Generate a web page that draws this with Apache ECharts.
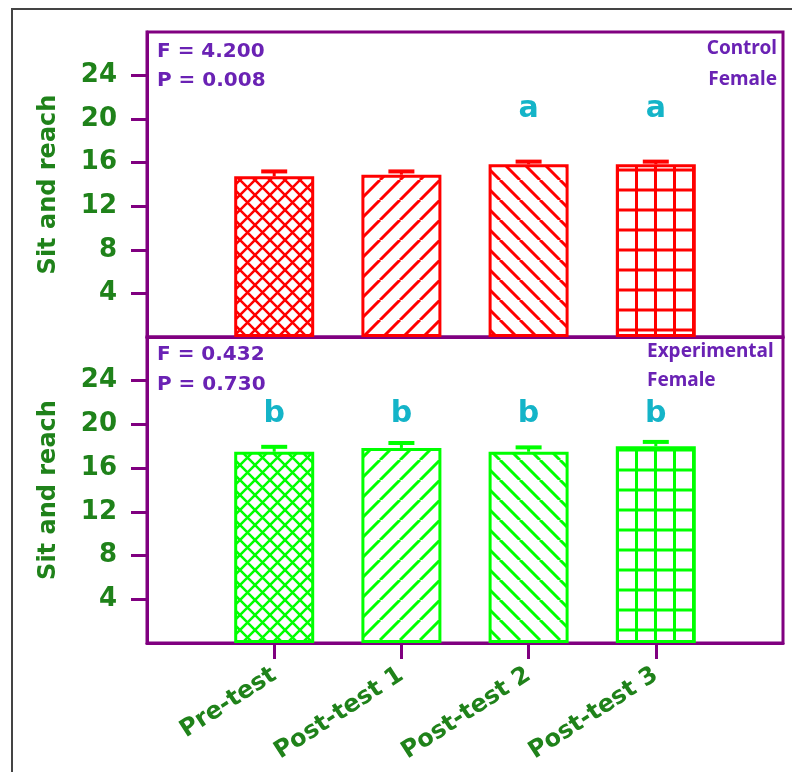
<!DOCTYPE html>
<html><head><meta charset="utf-8">
<script src="https://cdn.jsdelivr.net/npm/echarts@6/dist/echarts.min.js"></script>
<style>html,body{margin:0;padding:0;background:#fff}#c{width:792px;height:772px}</style>
</head><body><div id="c"></div>
<script>
// ---- data ----
const categories = ['Pre-test', 'Post-test 1', 'Post-test 2', 'Post-test 3'];
const controlMeans = [14.75, 14.9, 15.85, 15.85];
const controlSE = [0.45, 0.3, 0.25, 0.25];
const experimentalMeans = [17.5, 17.85, 17.5, 18.0];
const experimentalSE = [0.45, 0.45, 0.4, 0.4];
const controlLetters = ['', '', 'a', 'a'];
const experimentalLetters = ['b', 'b', 'b', 'b'];
const yTicks = [4, 8, 12, 16, 20, 24];
const controlStats = ['F = 4.200', 'P = 0.008'];
const experimentalStats = ['F = 0.432', 'P = 0.730'];
const controlGroup = ['Control', 'Female'];
const experimentalGroup = ['Experimental', 'Female'];
const yName = 'Sit and reach';

// ---- styles ----
const PURPLE = '#800080';
const TEXT_PURPLE = '#6a22b4';
const GREEN = '#1f821a';
const CYAN = '#14b4c8';
const RED = '#ff0000';
const LIME = '#00ff00';
const LETTER_Y = 20.9;
const patternKinds = ['cross', 'slash', 'backslash', 'grid'];

function makePattern(kind, color) {
  const w = kind === 'cross' ? 15 : 20;
  const h = kind === 'grid' ? 20 : w;
  const ww = kind === 'grid' ? 19 : w;
  const c = document.createElement('canvas');
  c.width = ww; c.height = h;
  const g = c.getContext('2d');
  g.fillStyle = '#fff'; g.fillRect(0, 0, ww, h);
  g.strokeStyle = color;
  g.lineWidth = kind === 'grid' ? 3 : (kind === 'cross' ? 2.5 : 3);
  g.beginPath();
  if (kind === 'grid') {
    g.moveTo(ww / 2, 0); g.lineTo(ww / 2, h);
    g.moveTo(0, h / 2); g.lineTo(ww, h / 2);
  } else {
    const s = w;
    for (const k of [-s, 0, s]) {
      if (kind === 'slash' || kind === 'cross') { g.moveTo(k, s); g.lineTo(k + s, 0); }
      if (kind === 'backslash' || kind === 'cross') { g.moveTo(k, 0); g.lineTo(k + s, s); }
    }
  }
  g.stroke();
  return { image: c, repeat: 'repeat' };
}

function barSeries(means, color, idx) {
  return {
    type: 'bar', xAxisIndex: idx, yAxisIndex: idx, barWidth: 80, z: 2,
    data: means.map((m, i) => ({
      value: [i + 1, m],
      itemStyle: { color: makePattern(patternKinds[i], color), borderColor: color, borderWidth: 3 }
    }))
  };
}

function errSeries(means, se, color, idx) {
  return {
    type: 'custom', xAxisIndex: idx, yAxisIndex: idx, z: 5,
    data: means.map((m, i) => [i + 1, m, se[i]]),
    renderItem: function (params, api) {
      const x = api.value(0), m = api.value(1), e = api.value(2);
      const a = api.coord([x, m]), b = api.coord([x, m + e]);
      return {
        type: 'group', children: [
          { type: 'line', shape: { x1: a[0], y1: a[1], x2: b[0], y2: b[1] }, style: { stroke: color, lineWidth: 3 } },
          { type: 'line', shape: { x1: b[0] - 13, y1: b[1], x2: b[0] + 13, y2: b[1] }, style: { stroke: color, lineWidth: 4 } }
        ]
      };
    }
  };
}

function letterSeries(letters, idx) {
  return {
    type: 'custom', xAxisIndex: idx, yAxisIndex: idx, z: 6,
    data: letters.map((l, i) => [i + 1, LETTER_Y]),
    renderItem: function (params, api) {
      const t = letters[params.dataIndex];
      if (!t) return null;
      const p = api.coord([api.value(0), api.value(1)]);
      return {
        type: 'text', x: p[0], y: p[1],
        style: { text: t, fill: CYAN, font: 'bold 30px "DejaVu Sans"', align: 'center', verticalAlign: 'middle', textAlign: 'center', textVerticalAlign: 'middle' }
      };
    }
  };
}

function yAxis(idx) {
  return {
    gridIndex: idx, type: 'value', min: 0, max: 28, interval: 4,
    axisLine: { show: true, lineStyle: { color: PURPLE, width: 3 } },
    axisTick: { show: true, length: 16, customValues: yTicks, lineStyle: { color: PURPLE, width: 3 } },
    axisLabel: { customValues: yTicks, color: GREEN, fontFamily: 'DejaVu Sans', fontWeight: 'bold', fontSize: 26, margin: 30 },
    splitLine: { show: false },
    name: yName, nameLocation: 'middle', nameRotate: 90, nameGap: 86,
    nameTextStyle: { color: GREEN, fontFamily: 'DejaVu Sans', fontWeight: 'bold', fontSize: 24 }
  };
}

const xTickVals = categories.map((c, i) => i + 1);

function txt(text, x, y, align, font) {
  return {
    type: 'text', x: x, y: y, z: 100,
    style: { text: text, fill: TEXT_PURPLE, font: font, align: align, verticalAlign: 'middle', textAlign: align, textVerticalAlign: 'middle' }
  };
}
const statFont = 'bold 20px "DejaVu Sans"';
const grpFont = 'bold 19px "Noto Sans"';

const option = {
  animation: false,
  backgroundColor: '#fff',
  grid: [
    { left: 147, top: 32, width: 636, height: 305, show: true, borderColor: PURPLE, borderWidth: 3, outerBoundsMode: 'none' },
    { left: 147, top: 337, width: 636, height: 306, show: true, borderColor: PURPLE, borderWidth: 3, outerBoundsMode: 'none' }
  ],
  xAxis: [
    { gridIndex: 0, type: 'value', min: 0, max: 5,
      axisLine: { show: true, lineStyle: { color: PURPLE, width: 3 } },
      axisTick: { show: false }, axisLabel: { show: false }, splitLine: { show: false } },
    { gridIndex: 1, type: 'value', min: 0, max: 5, interval: 1,
      axisLine: { show: true, lineStyle: { color: PURPLE, width: 3 } },
      axisTick: { show: true, length: 16, customValues: xTickVals, lineStyle: { color: PURPLE, width: 3 } },
      axisLabel: { customValues: xTickVals, rotate: 33, margin: 30, color: GREEN, fontFamily: 'DejaVu Sans', fontWeight: 'bold', fontSize: 24,
        formatter: v => categories[Math.round(v) - 1] || '' },
      splitLine: { show: false } }
  ],
  yAxis: [yAxis(0), yAxis(1)],
  series: [
    barSeries(controlMeans, RED, 0),
    errSeries(controlMeans, controlSE, RED, 0),
    letterSeries(controlLetters, 0),
    barSeries(experimentalMeans, LIME, 1),
    errSeries(experimentalMeans, experimentalSE, LIME, 1),
    letterSeries(experimentalLetters, 1)
  ],
  graphic: [
    { type: 'rect', shape: { x: 12, y: 9, width: 800, height: 800 }, style: { fill: 'none', stroke: '#444', lineWidth: 2 }, z: 100 },
    txt(controlStats[0], 157, 52, 'left', statFont),
    txt(controlStats[1], 157, 81, 'left', statFont),
    txt(controlGroup[0], 777, 49, 'right', grpFont),
    txt(controlGroup[1], 777, 80, 'right', grpFont),
    txt(experimentalStats[0], 157, 355, 'left', statFont),
    txt(experimentalStats[1], 157, 385, 'left', statFont),
    txt(experimentalGroup[0], 647, 352, 'left', grpFont),
    txt(experimentalGroup[1], 647, 381, 'left', grpFont)
  ]
};

const chart = echarts.init(document.getElementById('c'), null, { renderer: 'canvas' });
chart.setOption(option);
</script>
</body></html>
